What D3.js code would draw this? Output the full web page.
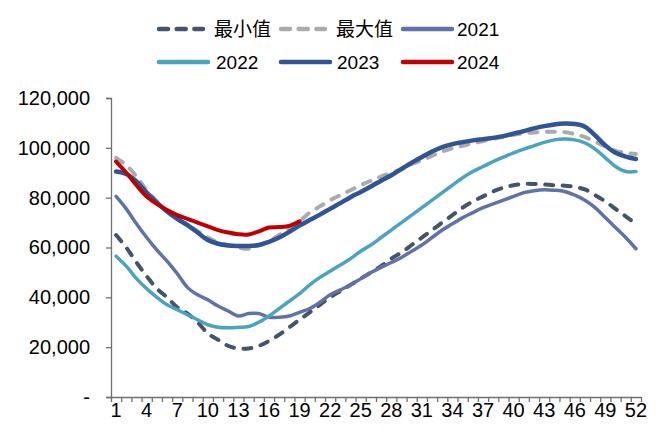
<!DOCTYPE html>
<html>
<head>
<meta charset="utf-8">
<script src="https://cdn.jsdelivr.net/npm/d3@7"></script>
<style>
  html, body { margin: 0; padding: 0; background: #fff; }
  svg { display: block; }
  text { font-family: Arial, "Liberation Sans", "Noto Sans CJK SC", sans-serif; fill: #000; }
</style>
</head>
<body>
<svg id="chart" width="668" height="445"></svg>
<script>
const weeks = d3.range(1, 53);
const xTickLabels = [1,4,7,10,13,16,19,22,25,28,31,34,37,40,43,46,49,52];
const yTicks = [0, 20000, 40000, 60000, 80000, 100000, 120000];

const minVals = [65000,60000,54000,48500,43500,40000,36000,33500,30000,25500,23000,20500,19500,19500,20500,22500,25000,28000,31000,34000,37000,40000,42500,45000,47500,50000,52500,55500,58000,61000,64000,67000,70000,73000,76000,78500,80500,82500,84000,85000,85500,85500,85300,85000,84800,84300,83300,81000,78500,75500,72500,69500];
const maxVals = [96000,93000,88500,83000,78500,74500,71500,69000,66500,64000,62000,61000,60000,59500,61000,62500,65000,67500,70500,74000,76500,79000,81000,83000,85000,86800,88500,90000,91500,93500,95000,96800,98500,99800,100800,101800,102700,103600,104400,105200,105800,106200,106400,106500,106300,105500,104300,102500,100500,98800,98000,97500];
const y2021 = [80500,75500,69500,64000,59000,54500,49500,44000,41000,39000,36500,34500,32500,33500,33500,32000,32000,32500,34000,35500,38000,41000,43000,45000,47500,50000,52000,54000,56000,58500,61000,64000,67000,69500,72000,74000,76000,77500,79000,80500,82000,82800,83200,83000,82500,81000,79000,76000,72000,68000,64000,59500];
const y2022 = [56500,52500,47500,43500,40000,37000,35000,33000,31000,29000,28000,27800,28000,28300,30000,32500,35500,38500,41500,45000,48000,50500,53000,55500,58500,61000,64000,67000,70000,73000,76000,79000,82000,85000,88000,90500,92500,94500,96300,98000,99500,100800,102200,103200,103500,103200,102000,99500,96000,92500,90500,90500];
const y2023 = [90500,89500,86500,82000,78000,74500,71500,69000,66000,63000,61500,60800,60600,60600,61000,62300,64000,66300,68800,71000,73200,75500,77800,80200,82300,84500,86800,89000,91500,94000,96300,98500,100300,101500,102300,103000,103500,104000,104700,105700,106700,107800,108700,109400,109800,109600,108500,105000,101000,98000,96500,95500];
const y2024 = [94500,90000,85000,80500,77500,75000,73000,71500,70000,68500,67000,66000,65300,65200,66500,68000,68200,68700,70500];

const seriesNames = ["最小值","最大值","2021","2022","2023","2024"];
const seriesData = [minVals, maxVals, y2021, y2022, y2023, y2024];
const seriesColors = ["#44546A","#ABABAB","#5F73A9","#4AA3BF","#2F5597","#C00000"];
const seriesDashed = [true, true, false, false, false, false];
const seriesWidths = [4, 4, 3.5, 3.5, 4.5, 4];

const svg = d3.select("#chart");
const mLeft = 111, mRight = 641, mTop = 98, mBottom = 397;

const x = d3.scaleBand().domain(weeks).range([mLeft, mRight]).padding(0);
const xEdge = d3.scaleLinear().domain([0.5, 52.5]).range([mLeft, mRight]);
const y = d3.scaleLinear().domain([0, 120000]).range([mBottom, mTop]);
const cx = w => x(w) + x.bandwidth() / 2;

// Y axis
const yAxis = d3.axisLeft(y).tickValues(yTicks).tickSizeOuter(0).tickSize(5)
  .tickFormat(d => d === 0 ? "-" : d3.format(",")(d));
const gy = svg.append("g").attr("transform", `translate(${mLeft},0)`).call(yAxis);
gy.select(".domain").attr("stroke", "#6f6f6f").attr("stroke-width", 1.3);
gy.selectAll(".tick line").attr("stroke", "#6f6f6f").attr("stroke-width", 1.3);
gy.selectAll(".tick text").attr("x", -21).style("font-size", "20px").attr("fill", "#000");

// X axis ticks at category edges
const xAxisTicks = d3.axisBottom(xEdge).tickValues(d3.range(0.5, 53, 1)).tickSize(5).tickSizeOuter(0).tickFormat("");
const gx = svg.append("g").attr("transform", `translate(0,${mBottom})`).call(xAxisTicks);
gx.select(".domain").attr("stroke", "#6f6f6f").attr("stroke-width", 1.3);
gx.selectAll(".tick line").attr("stroke", "#6f6f6f").attr("stroke-width", 1.3);

// X labels
const xAxisLabels = d3.axisBottom(x).tickValues(xTickLabels).tickSize(0).tickPadding(6);
const gxl = svg.append("g").attr("transform", `translate(0,${mBottom})`).call(xAxisLabels);
gxl.select(".domain").remove();
gxl.selectAll(".tick text").style("font-size", "20px").attr("fill", "#000");

// Lines
const line = d3.line()
  .x((d, i) => cx(weeks[i]))
  .y(d => y(d))
  .curve(d3.curveCatmullRom.alpha(0.5));

seriesData.forEach((data, i) => {
  svg.append("path")
    .datum(data)
    .attr("fill", "none")
    .attr("stroke", seriesColors[i])
    .attr("stroke-width", seriesWidths[i])
    .attr("stroke-linecap", "round")
    .attr("stroke-linejoin", "round")
    .attr("stroke-dasharray", seriesDashed[i] ? "8,9.5" : null)
    .attr("d", line);
});

// Legend
const legendItems = [
  {i: 0, lx: 157, tx: 214, ly: 29},
  {i: 1, lx: 279, tx: 336, ly: 29},
  {i: 2, lx: 401, tx: 457, ly: 29},
  {i: 3, lx: 157, tx: 216, ly: 62},
  {i: 4, lx: 279, tx: 337, ly: 62},
  {i: 5, lx: 401, tx: 457, ly: 62}
];
const lg = svg.append("g");
legendItems.forEach(it => {
  const k = it.i;
  lg.append("line")
    .attr("x1", it.lx + 2).attr("x2", it.lx + (seriesDashed[k] ? 46 : 51))
    .attr("y1", it.ly).attr("y2", it.ly)
    .attr("stroke", seriesColors[k])
    .attr("stroke-width", 4.5)
    .attr("stroke-linecap", "round")
    .attr("stroke-dasharray", seriesDashed[k] ? "9,8.7" : null);
  lg.append("text")
    .attr("x", it.tx).attr("y", it.ly)
    .attr("dominant-baseline", "central")
    .style("font-size", "19px")
    .text(seriesNames[k]);
});
</script>
</body>
</html>
